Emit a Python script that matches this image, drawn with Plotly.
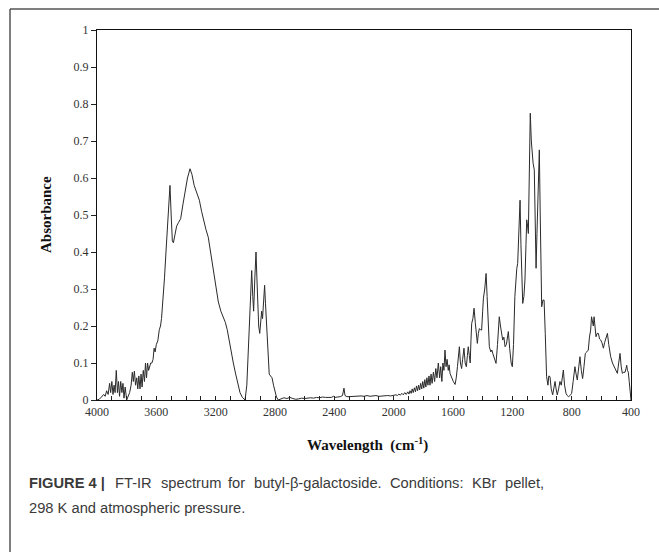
import plotly.graph_objects as go

# Wavenumber (cm-1) and absorbance
wavenumber = [
    4000, 3985, 3970, 3955, 3945, 3935, 3925, 3915, 3908, 3900, 3892, 3885, 3878, 3870, 3862, 3855,
    3848, 3840, 3832, 3825, 3818, 3810, 3800, 3790, 3780, 3770, 3762, 3755, 3748, 3740, 3732, 3725,
    3718, 3710, 3703, 3696, 3688, 3680, 3673, 3666, 3659, 3652, 3645, 3638, 3630, 3622, 3615, 3608,
    3600, 3590, 3580, 3572, 3565, 3555, 3545, 3535, 3525, 3515, 3508, 3500, 3492, 3485, 3475, 3463,
    3450, 3436, 3420, 3405, 3390, 3373, 3360, 3345, 3330, 3310, 3295, 3280, 3265, 3250, 3235, 3216,
    3200, 3182, 3165, 3149, 3135, 3122, 3110, 3095, 3081, 3065, 3050, 3036, 3020, 3002, 2990, 2980,
    2973, 2965, 2957, 2950, 2944, 2936, 2928, 2922, 2915, 2910, 2903, 2896, 2890, 2884, 2876, 2870,
    2864, 2857, 2848, 2839, 2830, 2820, 2810, 2800, 2790, 2778, 2760, 2740, 2720, 2700, 2680, 2660,
    2640, 2620, 2600, 2580, 2560, 2540, 2520, 2500, 2480, 2460, 2440, 2420, 2405, 2395, 2380, 2360,
    2345, 2335, 2328, 2315, 2300, 2280, 2260, 2240, 2220, 2200, 2180, 2160, 2140, 2120, 2100, 2080,
    2060, 2040, 2020, 2000, 1985, 1975, 1965, 1955, 1945, 1935, 1925, 1915, 1905, 1897, 1890, 1882,
    1875, 1868, 1860, 1853, 1846, 1839, 1832, 1825, 1818, 1811, 1804, 1797, 1790, 1783, 1776, 1769,
    1762, 1755, 1748, 1741, 1732, 1724, 1716, 1708, 1699, 1690, 1683, 1675, 1668, 1661, 1654, 1647,
    1640, 1632, 1626, 1620, 1610, 1598, 1586, 1578, 1570, 1563, 1557, 1550, 1542, 1535, 1526, 1518,
    1510, 1503, 1497, 1490, 1484, 1479, 1474, 1466, 1458, 1450, 1443, 1436, 1429, 1422, 1415, 1407,
    1400, 1395, 1386, 1377, 1370, 1362, 1355, 1345, 1338, 1332, 1320, 1310, 1300, 1288, 1280, 1270,
    1265, 1257, 1249, 1240, 1227, 1218, 1208, 1200, 1192, 1183, 1175, 1170, 1164, 1158, 1152, 1148,
    1142, 1136, 1130, 1122, 1115, 1108, 1103, 1097, 1092, 1086, 1079, 1072, 1066, 1060, 1052, 1046,
    1040, 1034, 1026, 1018, 1012, 1006, 1002, 994, 986, 978, 969, 960, 954, 946, 938, 928,
    920, 912, 905, 897, 888, 879, 870, 862, 856, 848, 838, 830, 822, 811, 800, 790,
    778, 770, 762, 752, 744, 735, 726, 717, 708, 698, 688, 680, 672, 666, 661, 654,
    649, 642, 636, 628, 620, 612, 604, 596, 586, 578, 568, 559, 550, 537, 525, 515,
    508, 500, 492, 483, 474, 466, 458, 449, 440, 434, 429, 424, 418, 412, 407, 402,
    400,
]

absorbance = [
    0.0, 0.002, 0.008, 0.015, 0.01, 0.025, 0.015, 0.045, 0.02, 0.05, 0.015, 0.04, 0.02, 0.08, 0.02, 0.05,
    0.01, 0.05, 0.02, 0.045, 0.005, 0.035, 0.0, 0.01, 0.02, 0.04, 0.075, 0.05, 0.078, 0.04, 0.06, 0.03,
    0.065, 0.03, 0.07, 0.035, 0.08, 0.05, 0.1, 0.06, 0.1, 0.08, 0.095, 0.1, 0.1, 0.11, 0.14, 0.13,
    0.15, 0.16, 0.19, 0.2, 0.22, 0.27, 0.33, 0.4, 0.47, 0.54, 0.58, 0.5, 0.43, 0.425, 0.45, 0.47,
    0.48, 0.49, 0.53, 0.57, 0.6, 0.625, 0.61, 0.58, 0.56, 0.54, 0.51, 0.48, 0.46, 0.44, 0.4, 0.35,
    0.31, 0.265, 0.24, 0.225, 0.21, 0.19, 0.16, 0.13, 0.1, 0.07, 0.045, 0.02, 0.007, 0.0, 0.04, 0.14,
    0.22, 0.3, 0.35, 0.28, 0.24, 0.33, 0.4, 0.33, 0.25, 0.2, 0.18, 0.22, 0.24, 0.22, 0.27, 0.31,
    0.26, 0.2, 0.12, 0.07, 0.065, 0.06, 0.04, 0.02, 0.008, 0.0, 0.003, 0.006, 0.004, 0.007, 0.004, 0.002,
    0.003, 0.005, 0.004, 0.006, 0.006, 0.005, 0.007, 0.006, 0.008, 0.007, 0.008, 0.007, 0.01, 0.007, 0.008, 0.009,
    0.012, 0.032, 0.012, 0.009, 0.009, 0.01, 0.009, 0.01, 0.011, 0.01, 0.012, 0.01, 0.011, 0.012, 0.01, 0.011,
    0.011, 0.012, 0.011, 0.012, 0.014, 0.012, 0.016, 0.013, 0.018, 0.014, 0.02, 0.015, 0.022, 0.016, 0.025, 0.018,
    0.03, 0.02, 0.033, 0.022, 0.038, 0.025, 0.04, 0.027, 0.045, 0.03, 0.05, 0.032, 0.055, 0.035, 0.06, 0.04,
    0.065, 0.04, 0.07, 0.045, 0.075, 0.05, 0.085, 0.06, 0.1, 0.06, 0.09, 0.05, 0.1, 0.08, 0.135, 0.09,
    0.11, 0.08, 0.095, 0.072, 0.06, 0.05, 0.042, 0.06, 0.09, 0.12, 0.144, 0.1, 0.085, 0.11, 0.14, 0.1,
    0.09, 0.12, 0.144, 0.12, 0.1, 0.16, 0.207, 0.22, 0.248, 0.21, 0.17, 0.153, 0.18, 0.193, 0.19, 0.189,
    0.24, 0.275, 0.3, 0.342, 0.28, 0.2, 0.144, 0.13, 0.135, 0.126, 0.11, 0.099, 0.15, 0.225, 0.2, 0.17,
    0.162, 0.17, 0.144, 0.15, 0.185, 0.14, 0.1, 0.09, 0.15, 0.28, 0.351, 0.355, 0.369, 0.45, 0.52, 0.54,
    0.42, 0.3, 0.261, 0.28, 0.324, 0.42, 0.487, 0.47, 0.45, 0.6, 0.775, 0.7, 0.65, 0.64, 0.622, 0.5,
    0.356, 0.45, 0.6, 0.676, 0.5, 0.3, 0.252, 0.27, 0.27, 0.18, 0.063, 0.04, 0.065, 0.063, 0.03, 0.014,
    0.03, 0.05, 0.03, 0.014, 0.03, 0.05, 0.04, 0.07, 0.081, 0.04, 0.018, 0.012, 0.009, 0.012, 0.018, 0.05,
    0.09, 0.07, 0.054, 0.09, 0.117, 0.08, 0.058, 0.09, 0.126, 0.13, 0.135, 0.17, 0.189, 0.225, 0.21, 0.2,
    0.225, 0.2, 0.171, 0.18, 0.18, 0.165, 0.162, 0.155, 0.14, 0.155, 0.17, 0.18, 0.15, 0.117, 0.1, 0.09,
    0.086, 0.08, 0.072, 0.1, 0.126, 0.09, 0.072, 0.075, 0.075, 0.085, 0.094, 0.08, 0.075, 0.05, 0.018, 0.014,
    0.0,
]

x_tick_values = [4000, 3600, 3200, 2800, 2400, 2000, 1600, 1200, 800, 400]
y_tick_values = [0, 0.1, 0.2, 0.3, 0.4, 0.5, 0.6, 0.7, 0.8, 0.9, 1]
y_tick_labels = ["0", "0.1", "0.2", "0.3", "0.4", "0.5", "0.6", "0.7", "0.8", "0.9", "1"]

x_title = "Wavelength  (cm<sup>-1</sup>)"
y_title = "Absorbance"
# caption line 1 is justified in the reference: words placed individually
caption_line1_words = ["<b>FIGURE 4 |</b>", "FT-IR", "spectrum", "for", "butyl-β-galactoside.",
                       "Conditions:", "KBr", "pellet,"]
caption_line1_word_x = [27, 113, 159, 226, 252, 388, 470, 503]
caption_line2 = "298 K and atmospheric pressure."

W, H = 659, 552
L, R, T, B = 97, 28, 30, 152
pw, ph = W - L - R, H - T - B


def px2paper_x(px):
    return (px - L) / pw


def px2paper_y(py):
    return (H - B - py) / ph


fig = go.Figure()
fig.add_trace(go.Scatter(
    x=wavenumber, y=absorbance, mode="lines",
    line=dict(color="#2a2a2a", width=1), hoverinfo="skip", showlegend=False,
))

serif = "Liberation Serif, Times New Roman, serif"
sans = "Liberation Sans, Arial, sans-serif"

fig.update_layout(
    width=W, height=H,
    margin=dict(l=L, r=R, t=T, b=B),
    paper_bgcolor="white", plot_bgcolor="white",
    xaxis=dict(
        range=[4000, 400], tickmode="array", tickvals=x_tick_values,
        ticktext=[str(v) for v in x_tick_values],
        ticks="inside", ticklen=4, tickcolor="#222", tickwidth=1,
        minor=dict(dtick=100, tick0=400, ticks="inside", ticklen=4, tickcolor="#222", tickwidth=1),
        showgrid=False, zeroline=False,
        showline=True, linecolor="#111", linewidth=1.2, mirror=True,
        tickfont=dict(family=serif, size=12, color="#333"),
    ),
    yaxis=dict(
        range=[0, 1], tickmode="array", tickvals=y_tick_values, ticktext=y_tick_labels,
        ticks="outside", ticklen=5, tickcolor="#222", tickwidth=1,
        showgrid=False, zeroline=False,
        showline=True, linecolor="#111", linewidth=1.2, mirror=True,
        tickfont=dict(family=serif, size=12, color="#333"),
    ),
)

# x-axis title (bold)
fig.add_annotation(
    x=px2paper_x(367), y=px2paper_y(444), xref="paper", yref="paper",
    text="<b>" + x_title + "</b>", showarrow=False,
    font=dict(family=serif, size=15, color="#111"), xanchor="center", yanchor="middle",
)

# y-axis title (bold, rotated)
fig.add_annotation(
    x=px2paper_x(46), y=px2paper_y(215), xref="paper", yref="paper",
    text="<b>" + y_title + "</b>", showarrow=False, textangle=-90,
    font=dict(family=serif, size=15, color="#111"), xanchor="center", yanchor="middle",
)

# caption
for word, wx in zip(caption_line1_words, caption_line1_word_x):
    fig.add_annotation(
        x=px2paper_x(wx), y=px2paper_y(483), xref="paper", yref="paper",
        text=word, showarrow=False, xanchor="left", yanchor="middle",
        font=dict(family=sans, size=14.7, color="#3a3a3a"),
    )
fig.add_annotation(
    x=px2paper_x(27), y=px2paper_y(508), xref="paper", yref="paper",
    text=caption_line2, showarrow=False, xanchor="left", yanchor="middle",
    font=dict(family=sans, size=14.7, color="#3a3a3a"),
)

# outer frame (left and top borders)
fig.add_shape(type="line", xref="paper", yref="paper",
              x0=px2paper_x(10), x1=px2paper_x(10), y0=px2paper_y(9), y1=px2paper_y(552),
              line=dict(color="#555", width=1.5))
fig.add_shape(type="line", xref="paper", yref="paper",
              x0=px2paper_x(10), x1=px2paper_x(659), y0=px2paper_y(9), y1=px2paper_y(9),
              line=dict(color="#555", width=1.5))

fig.write_html("out.html", config={"displayModeBar": False},
               post_script="document.body.style.margin='0px';")
